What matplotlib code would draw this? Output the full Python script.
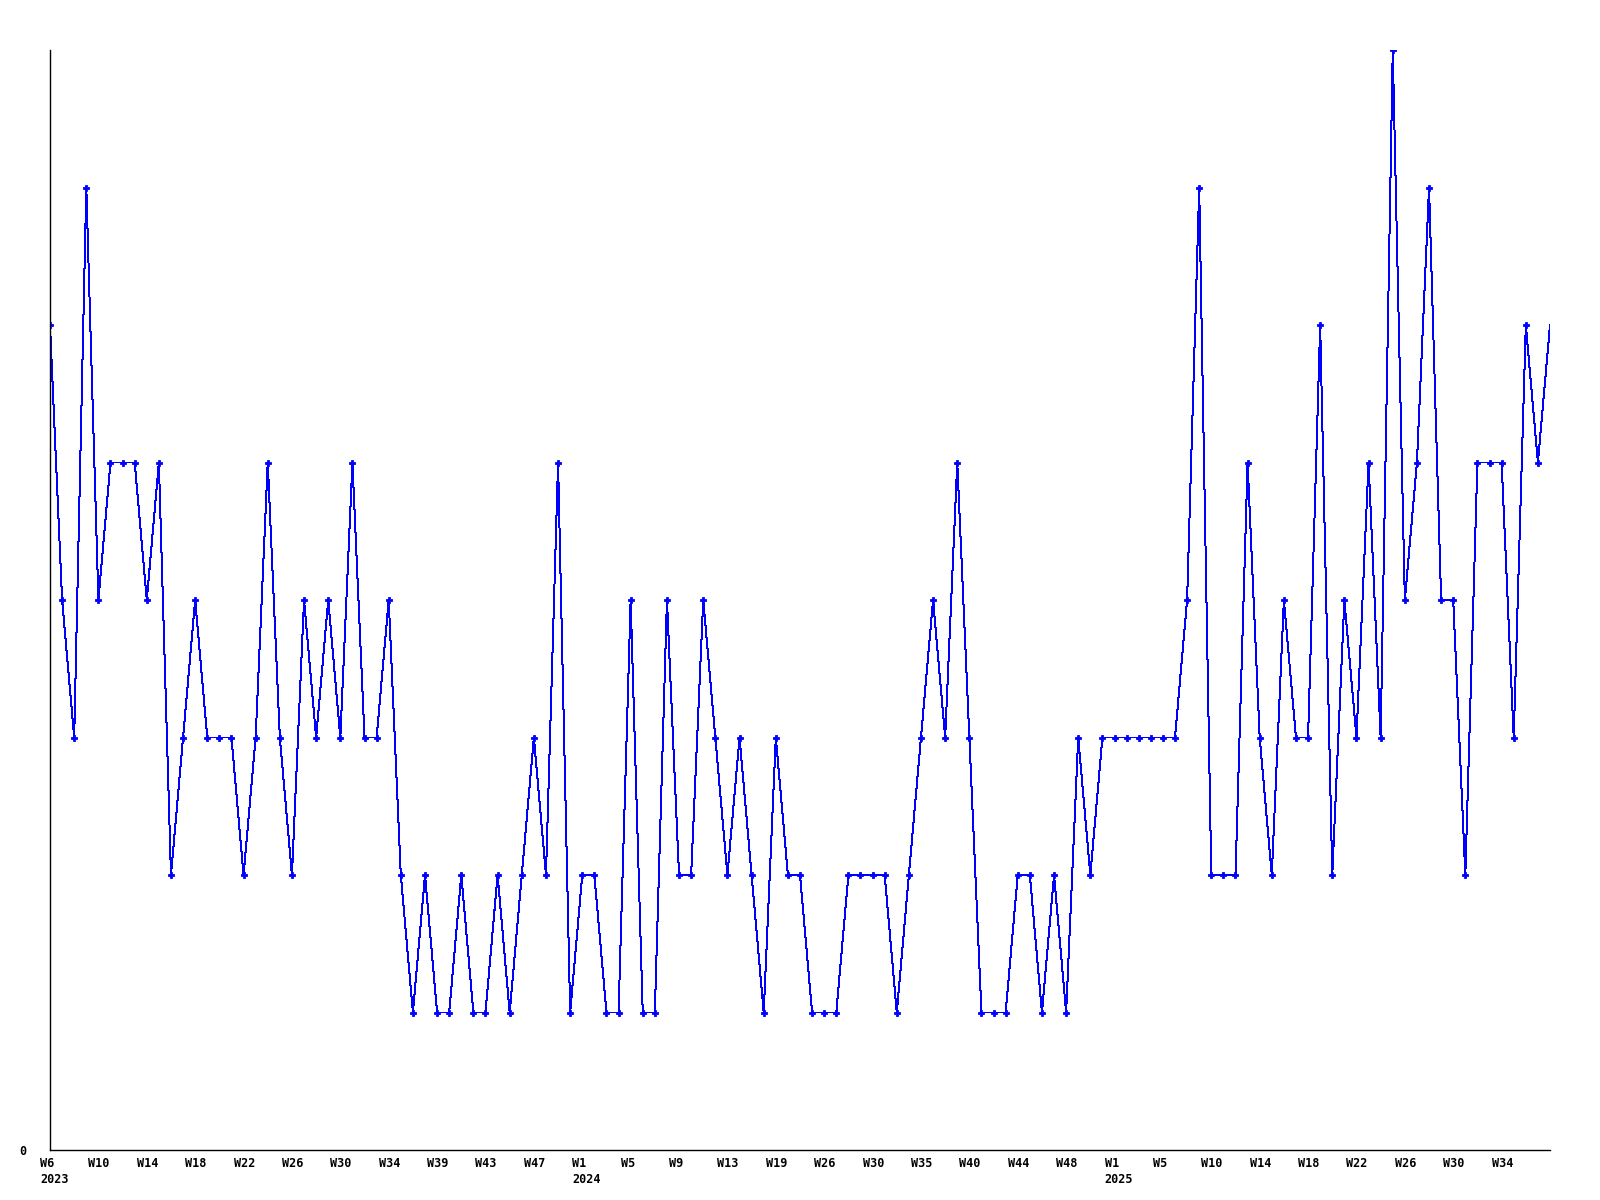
import matplotlib
matplotlib.use('Agg')
import matplotlib.pyplot as plt
import matplotlib.transforms as mtransforms

# weekly counts, one point per week that has data
counts = [6, 4, 3, 7, 4, 5, 5, 5, 4, 5,
          2, 3, 4, 3, 3, 3, 2, 3, 5, 3,
          2, 4, 3, 4, 3, 5, 3, 3, 4, 2,
          1, 2, 1, 1, 2, 1, 1, 2, 1, 2,
          3, 2, 5, 1, 2, 2, 1, 1, 4, 1,
          1, 4, 2, 2, 4, 3, 2, 3, 2, 1,
          3, 2, 2, 1, 1, 1, 2, 2, 2, 2,
          1, 2, 3, 4, 3, 5, 3, 1, 1, 1,
          2, 2, 1, 2, 1, 3, 2, 3, 3, 3,
          3, 3, 3, 3, 4, 7, 2, 2, 2, 5,
          3, 2, 4, 3, 3, 6, 2, 4, 3, 5,
          3, 8, 4, 5, 7, 4, 4, 2, 5, 5,
          5, 3, 6, 5, 6]

# one label every 4 points
week_labels = ["W6\n2023", "W10", "W14", "W18", "W22", "W26", "W30", "W34",
               "W39", "W43", "W47", "W1\n2024", "W5", "W9", "W13", "W19",
               "W26", "W30", "W35", "W40", "W44", "W48", "W1\n2025", "W5",
               "W10", "W14", "W18", "W22", "W26", "W30", "W34"]

x = list(range(len(counts)))
tick_pos = list(range(0, len(counts), 4))[:len(week_labels)]

fig = plt.figure(figsize=(16, 12), dpi=100)
ax = fig.add_axes([50/1600, 50/1200, 1500/1600, 1100/1200])

ax.plot(x, counts, color='#0000ff', lw=0.72, antialiased=False,
        marker='P', markersize=4.2, markevery=list(range(len(counts) - 1)),
        markeredgewidth=0.6, markeredgecolor='#0000ff')

ax.set_xlim(0, len(counts) - 1)
ax.set_ylim(0, max(counts))

for s in ['top', 'right']:
    ax.spines[s].set_visible(False)
ax.spines['left'].set_linewidth(1.0)
ax.spines['bottom'].set_linewidth(1.0)

ax.set_yticks([0])
ax.set_yticklabels(['0'], family='DejaVu Sans Mono', fontweight='bold', fontsize=8.5)
ax.tick_params(axis='y', length=0, pad=17)

ax.set_xticks(tick_pos)
ax.set_xticklabels(week_labels, family='DejaVu Sans Mono', fontweight='bold',
                   fontsize=8.5, ha='left', linespacing=1.3)
ax.tick_params(axis='x', length=0, pad=5)
shift = mtransforms.ScaledTranslation(-10/100, 0, fig.dpi_scale_trans)
for lab in ax.get_xticklabels():
    lab.set_transform(lab.get_transform() + shift)

fig.savefig('out.png', dpi=100)
